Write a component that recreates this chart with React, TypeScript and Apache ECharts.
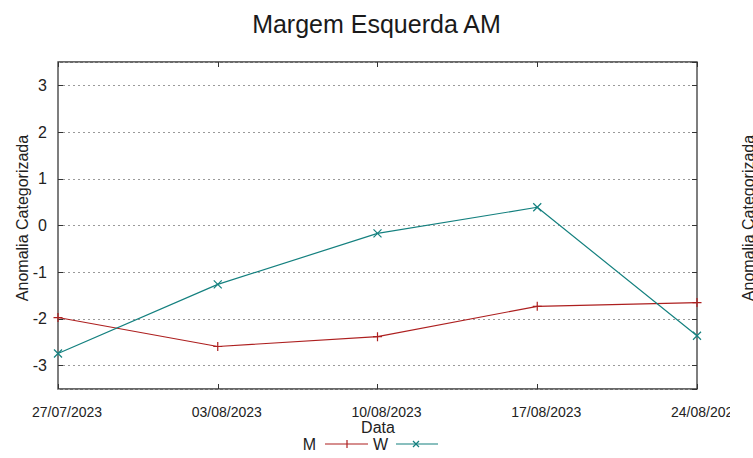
import React, { useEffect, useRef } from "react";
import * as echarts from "echarts";

const categories = ["27/07/2023", "03/08/2023", "10/08/2023", "17/08/2023", "24/08/2023"];
const seriesM = [-1.97, -2.59, -2.38, -1.73, -1.65];
const seriesW = [-2.74, -1.26, -0.17, 0.39, -2.36];
const seriesNames = ["M", "W"];
const colorM = "#ad1f1f";
const colorW = "#14807f";

const sans = "'Liberation Sans', Arial, sans-serif";

const plusPath = "path://M0,5L10,5M5,0L5,10";
const crossPath = "path://M0,0L10,10M10,0L0,10";

export default function App() {
  const ref = useRef<HTMLDivElement>(null);
  useEffect(() => {
    if (!ref.current) return;
    const chart = echarts.init(ref.current, null, { renderer: "svg" });
    const tickStyle = { show: true, inside: true, length: 5, lineStyle: { color: "#333", width: 1 } };
    chart.setOption({
      animation: false,
      backgroundColor: "#ffffff",
      title: {
        text: "Margem Esquerda AM",
        left: "center",
        top: 6,
        textStyle: { fontFamily: sans, fontSize: 25, fontWeight: "normal", color: "#1a1a1a" },
      },
      grid: {
        left: 58,
        right: 56,
        top: 62,
        bottom: 69,
        show: true,
        borderColor: "#3a3a3a",
        borderWidth: 1.3,
        backgroundColor: "transparent",
      },
      xAxis: [
        {
          type: "category",
          data: categories,
          boundaryGap: false,
          position: "bottom",
          axisLine: { show: false, onZero: false },
          axisTick: { ...tickStyle, alignWithLabel: true },
          axisLabel: {
            margin: 16,
            fontFamily: sans,
            fontSize: 14,
            color: "#222",
            padding: [0, 0, 0, 18],
            showMinLabel: true,
            showMaxLabel: true,
            interval: 0,
          },
          splitLine: { show: false },
        },
        {
          type: "category",
          data: categories,
          boundaryGap: false,
          position: "top",
          axisLine: { show: false, onZero: false },
          axisTick: { ...tickStyle },
          axisLabel: { show: false },
          splitLine: { show: false },
        },
      ],
      yAxis: [
        {
          type: "value",
          min: -3.5,
          max: 3.5,
          splitNumber: 7,
          position: "left",
          axisLine: { show: false, onZero: false },
          axisTick: tickStyle,
          axisLabel: {
            margin: 11,
            fontFamily: sans,
            fontSize: 16,
            color: "#222",
            showMinLabel: false,
            showMaxLabel: false,
            formatter: (v: number) => (Number.isInteger(v) ? String(v) : ""),
          },
          splitLine: { show: true, lineStyle: { color: "#9a9a9a", type: [2, 3], width: 1 } },
        },
        {
          type: "value",
          min: -3.5,
          max: 3.5,
          splitNumber: 7,
          position: "right",
          axisLine: { show: false, onZero: false },
          axisTick: tickStyle,
          axisLabel: { show: false },
          splitLine: { show: false },
        },
      ],
      series: [
        {
          name: seriesNames[0],
          type: "line",
          data: seriesM,
          xAxisIndex: 0,
          yAxisIndex: 0,
          symbol: plusPath,
          symbolSize: 9,
          lineStyle: { color: colorM, width: 1.2 },
          itemStyle: { color: "none", borderColor: colorM, borderWidth: 1.2 },
          clip: false,
        },
        {
          name: seriesNames[1],
          type: "line",
          data: seriesW,
          xAxisIndex: 0,
          yAxisIndex: 0,
          symbol: crossPath,
          symbolSize: 8,
          lineStyle: { color: colorW, width: 1.2 },
          itemStyle: { color: "none", borderColor: colorW, borderWidth: 1.2 },
          clip: false,
        },
      ],
      graphic: [
        {
          type: "text",
          x: 22,
          y: 218,
          rotation: Math.PI / 2,
          style: {
            text: "Anomalia Categorizada",
            fontFamily: sans,
            fontSize: 16,
            fill: "#222",
            align: "center",
            verticalAlign: "middle",
          },
        },
        {
          type: "text",
          x: 378,
          y: 427,
          style: {
            text: "Data",
            fontFamily: sans,
            fontSize: 16,
            fill: "#222",
            align: "center",
            verticalAlign: "middle",
          },
        },
        {
          type: "text",
          x: 316,
          y: 444,
          style: {
            text: seriesNames[0],
            fontFamily: sans,
            fontSize: 16,
            fill: "#222",
            align: "right",
            verticalAlign: "middle",
          },
        },
        {
          type: "line",
          shape: { x1: 325, y1: 444, x2: 368, y2: 444 },
          style: { stroke: colorM, lineWidth: 1.2 },
        },
        {
          type: "line",
          shape: { x1: 347, y1: 440, x2: 347, y2: 448 },
          style: { stroke: colorM, lineWidth: 1.2 },
        },
        {
          type: "text",
          x: 388,
          y: 444,
          style: {
            text: seriesNames[1],
            fontFamily: sans,
            fontSize: 16,
            fill: "#222",
            align: "right",
            verticalAlign: "middle",
          },
        },
        {
          type: "line",
          shape: { x1: 396, y1: 444, x2: 438, y2: 444 },
          style: { stroke: colorW, lineWidth: 1.2 },
        },
        {
          type: "line",
          shape: { x1: 413, y1: 441, x2: 419, y2: 447 },
          style: { stroke: colorW, lineWidth: 1.2 },
        },
        {
          type: "line",
          shape: { x1: 419, y1: 441, x2: 413, y2: 447 },
          style: { stroke: colorW, lineWidth: 1.2 },
        },
        {
          type: "rect",
          shape: { x: 730, y: 395, width: 30, height: 40 },
          style: { fill: "#ffffff" },
          z: 100,
        },
        {
          type: "text",
          x: 748,
          y: 218,
          rotation: Math.PI / 2,
          z: 101,
          style: {
            text: "Anomalia Categorizada",
            fontFamily: sans,
            fontSize: 16,
            fill: "#222",
            align: "center",
            verticalAlign: "middle",
          },
        },
      ],
    });
    return () => chart.dispose();
  }, []);
  return <div ref={ref} style={{ width: 753, height: 458, position: "absolute", left: 0, top: 0 }} />;
}
